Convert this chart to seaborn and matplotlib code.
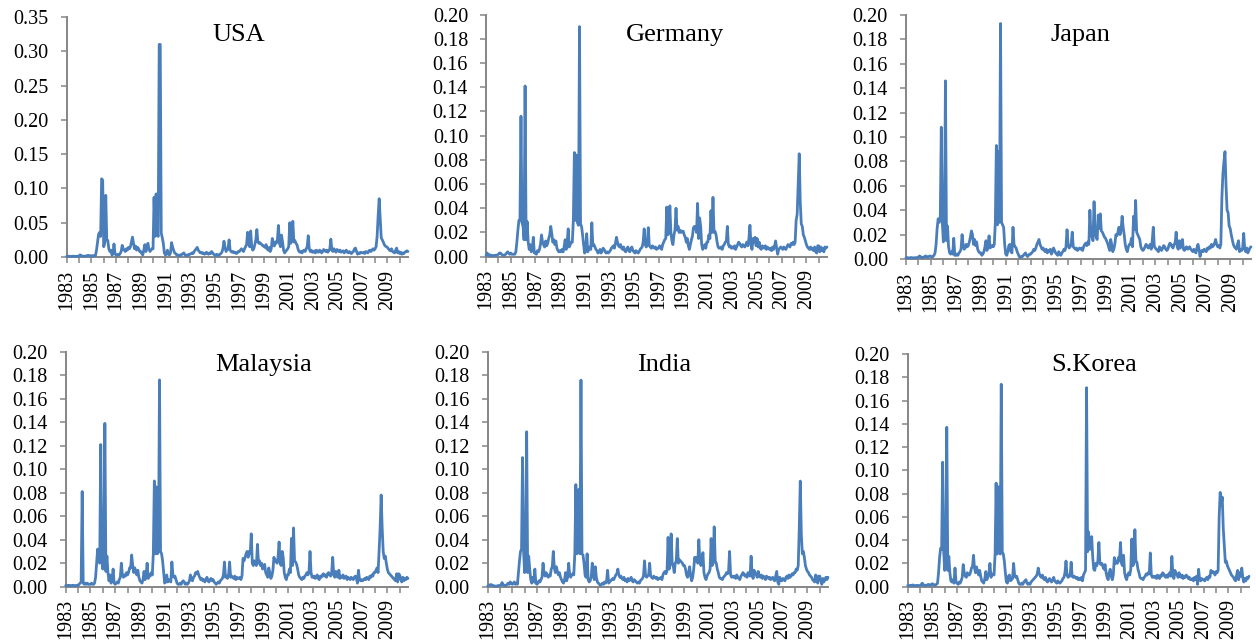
import numpy as np
import pandas as pd
import matplotlib
matplotlib.use("Agg")
import matplotlib.pyplot as plt
from matplotlib.ticker import FixedLocator, FormatStrFormatter
import seaborn as sns

# ---------------- data (monthly, Jan 1983 onwards) ----------------
year_labels = ["1983", "1985", "1987", "1989", "1991", "1993", "1995",
               "1997", "1999", "2001", "2003", "2005", "2007", "2009"]

usa = [
    0.001,0.001,0.0012,0.001,0.0008,0.001,0.0012,0.001,0.0009,0.001,0.0011,0.001,
    0.0015,0.003,0.0025,0.0012,0.001,0.0013,0.0012,0.0015,0.002,0.0025,0.0018,0.0012,
    0.002,0.0015,0.002,0.0015,0.002,0.01,0.022,0.033,0.036,0.03,0.114,0.112,
    0.015,0.02,0.09,0.025,0.024,0.012,0.008,0.01,0.003,0.004,0.019,0.005,
    0.003,0.002,0.004,0.003,0.005,0.008,0.017,0.012,0.01,0.008,0.012,0.01,
    0.014,0.012,0.015,0.022,0.029,0.02,0.012,0.016,0.01,0.014,0.012,0.008,
    0.008,0.005,0.003,0.01,0.018,0.008,0.012,0.02,0.012,0.008,0.01,0.012,
    0.012,0.087,0.03,0.092,0.035,0.03,0.31,0.31,0.035,0.028,0.02,0.006,
    0.003,0.004,0.01,0.004,0.003,0.006,0.021,0.015,0.01,0.006,0.005,0.003,
    0.003,0.002,0.003,0.002,0.004,0.005,0.006,0.003,0.002,0.003,0.002,0.004,
    0.004,0.005,0.006,0.005,0.008,0.01,0.012,0.014,0.01,0.008,0.006,0.007,
    0.005,0.006,0.004,0.005,0.007,0.005,0.004,0.006,0.005,0.008,0.006,0.004,
    0.003,0.002,0.004,0.003,0.002,0.004,0.005,0.007,0.012,0.023,0.015,0.008,
    0.01,0.012,0.025,0.01,0.008,0.007,0.008,0.006,0.007,0.005,0.006,0.008,
    0.008,0.01,0.012,0.01,0.008,0.012,0.015,0.018,0.036,0.02,0.015,0.038,
    0.015,0.01,0.012,0.018,0.025,0.04,0.022,0.02,0.021,0.019,0.018,0.016,
    0.016,0.014,0.018,0.012,0.01,0.014,0.008,0.012,0.027,0.02,0.016,0.022,
    0.02,0.025,0.046,0.02,0.015,0.032,0.022,0.01,0.006,0.008,0.01,0.012,
    0.015,0.05,0.02,0.025,0.052,0.022,0.024,0.02,0.018,0.012,0.008,0.007,
    0.008,0.006,0.009,0.01,0.008,0.012,0.015,0.031,0.012,0.008,0.01,0.007,
    0.007,0.009,0.006,0.01,0.008,0.007,0.01,0.009,0.006,0.008,0.011,0.009,
    0.008,0.01,0.007,0.009,0.012,0.026,0.01,0.008,0.012,0.01,0.007,0.011,
    0.009,0.008,0.01,0.007,0.008,0.009,0.006,0.008,0.01,0.007,0.006,0.008,
    0.006,0.005,0.007,0.008,0.012,0.013,0.008,0.004,0.006,0.005,0.007,0.006,
    0.006,0.007,0.005,0.008,0.007,0.006,0.009,0.01,0.008,0.01,0.012,0.01,
    0.012,0.015,0.03,0.06,0.085,0.055,0.028,0.025,0.022,0.018,0.016,0.015,
    0.014,0.012,0.01,0.009,0.012,0.008,0.007,0.006,0.01,0.013,0.006,0.008,
    0.005,0.007,0.004,0.006,0.005,0.007,0.008,0.009,0.008,
]

germany = [
    0.001,0.003,0.002,0.001,0.0015,0.001,0.001,0.0008,0.001,0.0012,0.001,0.0015,
    0.002,0.003,0.003,0.002,0.0015,0.001,0.0012,0.002,0.003,0.004,0.003,0.002,
    0.003,0.002,0.002,0.002,0.002,0.004,0.012,0.022,0.03,0.03,0.116,0.028,
    0.025,0.014,0.141,0.014,0.029,0.012,0.006,0.01,0.004,0.006,0.016,0.003,
    0.003,0.002,0.005,0.004,0.006,0.01,0.018,0.012,0.01,0.008,0.013,0.009,
    0.011,0.015,0.018,0.025,0.019,0.012,0.014,0.01,0.013,0.007,0.005,0.004,
    0.005,0.004,0.006,0.004,0.008,0.014,0.006,0.012,0.023,0.008,0.01,0.012,
    0.012,0.03,0.086,0.03,0.084,0.028,0.026,0.19,0.027,0.025,0.018,0.01,
    0.003,0.005,0.019,0.004,0.006,0.008,0.006,0.028,0.009,0.01,0.008,0.006,
    0.005,0.003,0.004,0.006,0.003,0.005,0.007,0.006,0.004,0.003,0.004,0.003,
    0.004,0.005,0.007,0.008,0.009,0.007,0.011,0.016,0.012,0.009,0.008,0.01,
    0.007,0.006,0.008,0.005,0.004,0.006,0.008,0.005,0.004,0.007,0.008,0.005,
    0.004,0.003,0.005,0.004,0.003,0.004,0.006,0.007,0.008,0.012,0.023,0.01,
    0.008,0.01,0.024,0.009,0.008,0.007,0.009,0.008,0.007,0.008,0.006,0.007,
    0.007,0.009,0.008,0.006,0.01,0.012,0.014,0.015,0.041,0.018,0.02,0.042,
    0.02,0.013,0.01,0.018,0.022,0.04,0.022,0.025,0.02,0.022,0.02,0.021,
    0.021,0.018,0.016,0.012,0.015,0.009,0.006,0.01,0.014,0.017,0.024,0.025,
    0.025,0.02,0.044,0.015,0.032,0.025,0.01,0.006,0.008,0.01,0.007,0.012,
    0.012,0.018,0.015,0.038,0.02,0.049,0.02,0.021,0.018,0.012,0.008,0.007,
    0.007,0.008,0.006,0.009,0.01,0.012,0.013,0.025,0.01,0.008,0.009,0.007,
    0.008,0.007,0.009,0.006,0.008,0.01,0.012,0.011,0.009,0.008,0.01,0.009,
    0.008,0.01,0.012,0.009,0.015,0.026,0.01,0.006,0.015,0.012,0.016,0.009,
    0.015,0.008,0.012,0.007,0.006,0.009,0.008,0.007,0.009,0.006,0.008,0.007,
    0.006,0.007,0.005,0.008,0.006,0.009,0.013,0.007,0.002,0.006,0.007,0.008,
    0.007,0.006,0.008,0.007,0.006,0.008,0.01,0.009,0.008,0.011,0.01,0.012,
    0.01,0.012,0.03,0.035,0.06,0.085,0.045,0.027,0.025,0.018,0.016,0.013,
    0.01,0.008,0.007,0.006,0.008,0.006,0.007,0.005,0.008,0.004,0.003,0.009,
    0.009,0.004,0.008,0.005,0.007,0.004,0.008,0.007,0.008,
]

japan = [
    0.001,0.0012,0.001,0.0008,0.001,0.0012,0.001,0.0009,0.001,0.0011,0.001,0.0012,
    0.0015,0.0025,0.002,0.0012,0.001,0.0015,0.002,0.0025,0.0018,0.0015,0.002,0.0025,
    0.002,0.0015,0.002,0.003,0.005,0.012,0.025,0.033,0.03,0.032,0.108,0.03,
    0.014,0.025,0.146,0.015,0.027,0.01,0.005,0.004,0.006,0.004,0.017,0.003,
    0.003,0.004,0.003,0.005,0.006,0.008,0.02,0.012,0.008,0.009,0.012,0.01,
    0.011,0.014,0.018,0.023,0.02,0.012,0.016,0.011,0.014,0.008,0.006,0.005,
    0.005,0.003,0.004,0.006,0.01,0.015,0.007,0.012,0.019,0.009,0.01,0.011,
    0.01,0.012,0.03,0.093,0.028,0.088,0.03,0.193,0.03,0.028,0.026,0.012,
    0.004,0.003,0.006,0.011,0.012,0.006,0.005,0.026,0.012,0.01,0.009,0.006,
    0.004,0.002,0.001,0.002,0.002,0.003,0.004,0.005,0.003,0.002,0.003,0.004,
    0.004,0.005,0.006,0.008,0.007,0.009,0.012,0.014,0.016,0.012,0.01,0.008,
    0.009,0.007,0.006,0.008,0.005,0.007,0.006,0.008,0.004,0.006,0.009,0.007,
    0.005,0.004,0.003,0.006,0.004,0.003,0.005,0.006,0.008,0.007,0.01,0.024,
    0.012,0.009,0.01,0.012,0.022,0.01,0.009,0.008,0.009,0.007,0.008,0.009,
    0.008,0.009,0.007,0.01,0.012,0.013,0.011,0.014,0.012,0.04,0.02,0.018,
    0.015,0.047,0.022,0.018,0.016,0.036,0.025,0.037,0.023,0.022,0.02,0.018,
    0.017,0.015,0.013,0.01,0.007,0.016,0.012,0.006,0.008,0.012,0.02,0.019,
    0.022,0.026,0.02,0.024,0.035,0.026,0.02,0.012,0.008,0.006,0.01,0.012,
    0.012,0.017,0.01,0.035,0.024,0.048,0.022,0.02,0.018,0.016,0.01,0.008,
    0.007,0.008,0.01,0.012,0.011,0.009,0.01,0.012,0.008,0.015,0.026,0.01,
    0.009,0.008,0.007,0.006,0.01,0.008,0.007,0.009,0.011,0.01,0.008,0.007,
    0.008,0.011,0.013,0.012,0.01,0.009,0.012,0.013,0.022,0.01,0.008,0.015,
    0.009,0.012,0.016,0.008,0.007,0.009,0.01,0.008,0.009,0.01,0.008,0.007,
    0.006,0.008,0.007,0.005,0.009,0.012,0.008,0.002,0.006,0.007,0.006,0.008,
    0.007,0.006,0.009,0.008,0.01,0.009,0.012,0.01,0.011,0.013,0.016,0.012,
    0.01,0.011,0.009,0.012,0.05,0.07,0.08,0.088,0.06,0.04,0.038,0.027,
    0.025,0.02,0.016,0.012,0.01,0.009,0.008,0.012,0.015,0.006,0.008,0.007,
    0.009,0.021,0.008,0.006,0.009,0.005,0.007,0.009,0.01,
]

malaysia = [
    0.001,0.0008,0.001,0.0012,0.001,0.0009,0.001,0.0012,0.001,0.0008,0.001,0.0012,
    0.001,0.002,0.003,0.004,0.081,0.003,0.002,0.003,0.002,0.003,0.002,0.002,
    0.002,0.003,0.002,0.002,0.003,0.008,0.02,0.032,0.028,0.02,0.121,0.03,
    0.015,0.025,0.139,0.013,0.026,0.012,0.005,0.01,0.003,0.006,0.015,0.003,
    0.002,0.003,0.004,0.003,0.006,0.008,0.02,0.01,0.008,0.01,0.009,0.012,
    0.01,0.012,0.016,0.016,0.027,0.018,0.012,0.016,0.013,0.01,0.014,0.008,
    0.005,0.004,0.003,0.006,0.013,0.006,0.01,0.02,0.007,0.01,0.009,0.012,
    0.01,0.028,0.09,0.028,0.085,0.028,0.03,0.176,0.03,0.028,0.022,0.012,
    0.003,0.004,0.01,0.004,0.006,0.005,0.004,0.021,0.01,0.008,0.009,0.006,
    0.003,0.002,0.002,0.003,0.002,0.004,0.005,0.004,0.002,0.003,0.002,0.003,
    0.005,0.01,0.006,0.005,0.008,0.009,0.012,0.011,0.013,0.01,0.008,0.006,
    0.007,0.005,0.006,0.004,0.006,0.008,0.005,0.004,0.006,0.007,0.005,0.006,
    0.004,0.003,0.002,0.003,0.004,0.003,0.005,0.006,0.007,0.01,0.021,0.008,
    0.009,0.007,0.01,0.021,0.008,0.009,0.008,0.007,0.009,0.006,0.008,0.007,
    0.007,0.008,0.006,0.009,0.024,0.022,0.025,0.028,0.03,0.025,0.03,0.028,
    0.045,0.02,0.018,0.022,0.02,0.018,0.036,0.02,0.022,0.018,0.02,0.015,
    0.018,0.019,0.012,0.01,0.008,0.016,0.012,0.007,0.009,0.014,0.025,0.022,
    0.022,0.02,0.025,0.038,0.02,0.018,0.03,0.025,0.012,0.008,0.006,0.01,
    0.01,0.015,0.012,0.041,0.018,0.05,0.022,0.021,0.019,0.015,0.01,0.008,
    0.007,0.006,0.008,0.007,0.009,0.01,0.012,0.01,0.012,0.03,0.012,0.008,
    0.008,0.009,0.007,0.008,0.01,0.007,0.006,0.009,0.008,0.01,0.011,0.009,
    0.01,0.008,0.011,0.012,0.01,0.009,0.012,0.025,0.01,0.008,0.013,0.009,
    0.008,0.014,0.007,0.009,0.008,0.01,0.007,0.008,0.009,0.006,0.008,0.007,
    0.006,0.008,0.007,0.006,0.008,0.009,0.007,0.003,0.014,0.006,0.005,0.006,
    0.005,0.006,0.007,0.006,0.008,0.007,0.006,0.009,0.008,0.01,0.009,0.012,
    0.012,0.014,0.016,0.012,0.03,0.05,0.078,0.05,0.03,0.024,0.026,0.02,
    0.015,0.012,0.011,0.01,0.009,0.008,0.007,0.006,0.005,0.011,0.004,0.011,
    0.01,0.006,0.004,0.008,0.005,0.007,0.006,0.008,0.007,
]

india = [
    0.0005,0.001,0.0015,0.0018,0.0015,0.001,0.0008,0.0005,0.0003,0.0005,0.001,0.0008,
    0.001,0.0015,0.0035,0.002,0.001,0.0008,0.001,0.002,0.003,0.002,0.004,0.003,
    0.002,0.003,0.004,0.002,0.003,0.002,0.012,0.022,0.03,0.032,0.11,0.03,
    0.012,0.03,0.132,0.012,0.026,0.015,0.006,0.003,0.008,0.004,0.015,0.003,
    0.002,0.003,0.005,0.004,0.006,0.008,0.02,0.011,0.009,0.012,0.01,0.008,
    0.01,0.009,0.015,0.017,0.03,0.016,0.012,0.017,0.013,0.01,0.012,0.008,
    0.006,0.004,0.003,0.006,0.012,0.005,0.008,0.02,0.01,0.008,0.01,0.011,
    0.01,0.028,0.087,0.028,0.03,0.083,0.028,0.176,0.028,0.027,0.02,0.01,
    0.008,0.028,0.006,0.004,0.005,0.008,0.02,0.012,0.006,0.017,0.008,0.004,
    0.003,0.002,0.001,0.002,0.003,0.002,0.004,0.003,0.005,0.014,0.003,0.004,
    0.005,0.006,0.007,0.006,0.008,0.01,0.011,0.015,0.01,0.008,0.009,0.007,
    0.006,0.008,0.005,0.006,0.004,0.007,0.005,0.006,0.008,0.005,0.004,0.006,
    0.005,0.004,0.003,0.004,0.003,0.005,0.006,0.007,0.009,0.022,0.01,0.008,
    0.009,0.01,0.02,0.009,0.008,0.007,0.009,0.008,0.007,0.008,0.006,0.007,
    0.007,0.008,0.006,0.01,0.012,0.013,0.011,0.014,0.042,0.015,0.018,0.045,
    0.02,0.018,0.012,0.02,0.022,0.041,0.02,0.023,0.022,0.021,0.02,0.018,
    0.018,0.015,0.01,0.008,0.012,0.017,0.009,0.005,0.008,0.015,0.025,0.022,
    0.025,0.02,0.04,0.022,0.018,0.02,0.029,0.012,0.008,0.006,0.009,0.011,
    0.012,0.015,0.041,0.018,0.02,0.051,0.022,0.02,0.015,0.012,0.008,0.007,
    0.007,0.006,0.008,0.009,0.01,0.012,0.011,0.013,0.03,0.01,0.008,0.009,
    0.008,0.009,0.007,0.01,0.008,0.007,0.006,0.009,0.01,0.012,0.011,0.009,
    0.01,0.008,0.012,0.011,0.009,0.026,0.01,0.007,0.014,0.012,0.01,0.008,
    0.013,0.009,0.008,0.01,0.007,0.009,0.008,0.006,0.009,0.008,0.007,0.008,
    0.006,0.007,0.008,0.006,0.005,0.009,0.013,0.004,0.002,0.008,0.006,0.005,
    0.007,0.006,0.005,0.008,0.009,0.007,0.01,0.008,0.009,0.011,0.01,0.012,
    0.012,0.015,0.014,0.018,0.05,0.09,0.045,0.028,0.03,0.025,0.018,0.015,
    0.013,0.012,0.01,0.009,0.008,0.006,0.005,0.004,0.01,0.008,0.003,0.009,
    0.009,0.005,0.002,0.007,0.004,0.006,0.008,0.006,0.008,
]

skorea = [
    0.001,0.0008,0.001,0.0012,0.001,0.0015,0.001,0.0008,0.001,0.0012,0.001,0.0009,
    0.001,0.0015,0.003,0.002,0.001,0.0012,0.001,0.0015,0.002,0.0015,0.001,0.002,
    0.0025,0.002,0.001,0.0015,0.002,0.003,0.012,0.025,0.033,0.032,0.107,0.03,
    0.014,0.025,0.137,0.014,0.026,0.012,0.005,0.004,0.006,0.003,0.016,0.004,
    0.003,0.002,0.004,0.003,0.005,0.008,0.019,0.012,0.009,0.008,0.012,0.01,
    0.01,0.012,0.016,0.017,0.027,0.016,0.012,0.017,0.013,0.01,0.014,0.009,
    0.005,0.004,0.003,0.007,0.013,0.006,0.009,0.011,0.02,0.008,0.01,0.011,
    0.01,0.028,0.089,0.028,0.03,0.086,0.028,0.174,0.03,0.028,0.022,0.012,
    0.004,0.003,0.009,0.01,0.005,0.006,0.007,0.02,0.01,0.008,0.009,0.006,
    0.003,0.002,0.002,0.003,0.002,0.004,0.005,0.006,0.003,0.002,0.003,0.002,
    0.004,0.005,0.006,0.007,0.008,0.009,0.011,0.016,0.011,0.009,0.008,0.01,
    0.007,0.006,0.008,0.005,0.004,0.006,0.007,0.005,0.004,0.006,0.008,0.005,
    0.004,0.003,0.005,0.004,0.003,0.004,0.005,0.007,0.008,0.012,0.022,0.01,
    0.008,0.01,0.009,0.021,0.009,0.008,0.009,0.008,0.007,0.008,0.006,0.007,
    0.006,0.008,0.005,0.01,0.012,0.014,0.171,0.03,0.047,0.032,0.035,0.043,
    0.025,0.015,0.014,0.02,0.018,0.022,0.038,0.02,0.019,0.02,0.017,0.015,
    0.019,0.012,0.008,0.006,0.012,0.015,0.009,0.006,0.01,0.025,0.02,0.022,
    0.02,0.025,0.022,0.038,0.02,0.018,0.027,0.012,0.008,0.006,0.01,0.012,
    0.01,0.015,0.041,0.018,0.02,0.049,0.022,0.021,0.015,0.012,0.008,0.007,
    0.007,0.006,0.008,0.009,0.011,0.01,0.012,0.011,0.029,0.01,0.008,0.009,
    0.008,0.009,0.007,0.01,0.008,0.007,0.01,0.009,0.012,0.011,0.009,0.008,
    0.01,0.008,0.011,0.012,0.009,0.026,0.01,0.007,0.014,0.012,0.01,0.008,
    0.012,0.009,0.008,0.01,0.007,0.009,0.008,0.01,0.009,0.007,0.008,0.006,
    0.006,0.007,0.005,0.008,0.006,0.009,0.002,0.015,0.006,0.005,0.007,0.006,
    0.006,0.005,0.007,0.008,0.006,0.009,0.008,0.014,0.012,0.013,0.012,0.01,
    0.013,0.012,0.014,0.06,0.081,0.07,0.077,0.05,0.035,0.021,0.022,0.018,
    0.016,0.014,0.012,0.01,0.009,0.008,0.006,0.005,0.01,0.014,0.006,0.012,
    0.009,0.016,0.008,0.004,0.007,0.005,0.008,0.007,0.009,
]

countries = ["USA", "Germany", "Japan", "Malaysia", "India", "S.Korea"]
series = [usa, germany, japan, malaysia, india, skorea]

# ---------------- styling / layout ----------------
LINE = "#4a7ebb"
AXIS = "#868686"

sns.set_theme(style="white")
plt.rcParams["font.family"] = ["Liberation Serif", "DejaVu Serif"]

fig = plt.figure(figsize=(12.56, 6.43), dpi=100)

# [left, bottom, width, height] in figure fraction
axes_pos = [
    [0.0531, 0.6003, 0.2717, 0.3733],
    [0.3870, 0.6008, 0.2714, 0.3766],
    [0.7213, 0.5972, 0.2747, 0.3795],
    [0.0523, 0.0876, 0.2725, 0.3654],
    [0.3883, 0.0876, 0.2709, 0.3650],
    [0.7227, 0.0876, 0.2717, 0.3619],
]
ymax = [0.35, 0.20, 0.20, 0.20, 0.20, 0.20]
ystep = [0.05, 0.02, 0.02, 0.02, 0.02, 0.02]
title_xy = [(0.505, 0.925), (0.554, 0.916), (0.505, 0.918),
            (0.578, 0.943), (0.518, 0.943), (0.545, 0.953)]

n = min(len(s) for s in series)

for i, (name, vals) in enumerate(zip(countries, series)):
    ax = fig.add_axes(axes_pos[i])
    df = pd.DataFrame({"t": np.arange(n), "v": np.asarray(vals[:n], dtype=float)})
    sns.lineplot(data=df, x="t", y="v", ax=ax, color=LINE, linewidth=2.0)
    for ln in ax.lines:
        ln.set_clip_on(False)
        ln.set_zorder(3)
        ln.set_solid_joinstyle("round")

    ax.set_xlim(0, n - 1)
    ax.set_ylim(0, ymax[i])
    ax.set_xlabel("")
    ax.set_ylabel("")

    # x axis: labelled ticks every 24 months, plain ticks every 12 months
    major = list(range(0, 24 * len(year_labels), 24))
    ax.xaxis.set_major_locator(FixedLocator(major))
    ax.xaxis.set_minor_locator(FixedLocator(list(range(12, n, 24))))
    ax.set_xticklabels(year_labels, rotation=90)

    yt = np.round(np.arange(0, ymax[i] + 1e-9, ystep[i]), 4)
    ax.set_yticks(yt)
    ax.yaxis.set_major_formatter(FormatStrFormatter("%.2f"))

    for side in ["top", "right"]:
        ax.spines[side].set_visible(False)
    for side in ["left", "bottom"]:
        ax.spines[side].set_color(AXIS)
        ax.spines[side].set_linewidth(1.4)

    ax.tick_params(axis="both", which="both", direction="out", length=4,
                   width=1.1, color=AXIS, labelcolor="black", labelsize=14.5,
                   bottom=True, left=True)
    ax.tick_params(axis="x", which="both", pad=5)
    ax.tick_params(axis="y", which="both", pad=9)

    ax.text(title_xy[i][0], title_xy[i][1], name, transform=ax.transAxes,
            ha="center", va="center", fontsize=19, color="black")

fig.savefig("out.png", dpi=100, facecolor="white")
